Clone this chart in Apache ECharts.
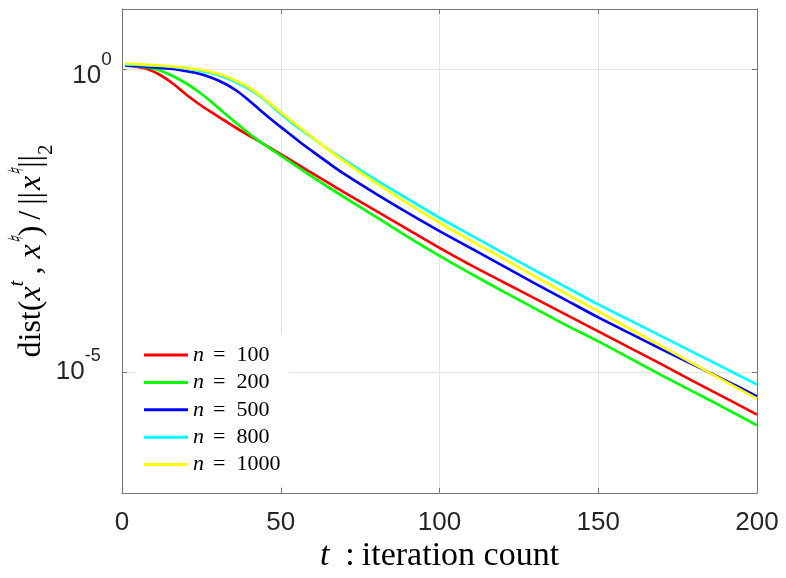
<!DOCTYPE html>
<html>
<head>
<meta charset="utf-8">
<script src="https://cdn.jsdelivr.net/npm/echarts@6/dist/echarts.min.js"></script>
<style>
  html, body { margin: 0; padding: 0; background: #ffffff; }
  #chart { width: 786px; height: 578px; }
</style>
</head>
<body>
<div id="chart"></div>
<script>
// Iteration index t at which the relative distance is sampled
const iterations = [1, 4, 8, 12, 16, 20, 24, 28, 32, 36, 40, 44, 48, 52, 56, 60, 65, 70,
  80, 90, 100, 110, 120, 130, 140, 150, 160, 170, 180, 190, 200];

// dist(x^t, x^natural) / ||x^natural||_2 for each problem size n
const errN100 = [1.164, 1.121, 1.019, 0.811, 0.587, 0.3937, 0.2743, 0.1986, 0.1464, 0.1080, 0.0812,
  0.0611, 0.0459, 0.0345, 0.02564, 0.01913, 0.01333, 0.00929, 0.00460, 0.002274, 0.001125,
  5.78e-4, 3.08e-4, 1.647e-4, 8.79e-5, 4.69e-5, 2.506e-5, 1.338e-5, 7.01e-6, 3.74e-6, 1.974e-6];
const errN200 = [1.164, 1.142, 1.079, 0.963, 0.781, 0.598, 0.433, 0.296, 0.195, 0.1306, 0.0876,
  0.0611, 0.0442, 0.0320, 0.02314, 0.01675, 0.01132, 0.00774, 0.003657, 0.001709, 8.30e-4,
  4.18e-4, 2.150e-4, 1.126e-4, 5.90e-5, 3.21e-5, 1.680e-5, 8.80e-6, 4.70e-6, 2.508e-6, 1.314e-6];
const errN500 = [1.164, 1.142, 1.108, 1.059, 1.019, 0.944, 0.859, 0.738, 0.598, 0.4498, 0.3074,
  0.2024, 0.1357, 0.0928, 0.0634, 0.0442, 0.02853, 0.01877, 0.00877, 0.004258, 0.002131,
  0.001103, 5.67e-4, 2.914e-4, 1.526e-4, 7.99e-5, 4.35e-5, 2.367e-5, 1.312e-5, 7.28e-6, 3.96e-6];
const errN800 = [1.219, 1.200, 1.173, 1.142, 1.100, 1.039, 0.963, 0.875, 0.752, 0.610, 0.476,
  0.3446, 0.2268, 0.1521, 0.1040, 0.0738, 0.0477, 0.0320, 0.01494, 0.00725, 0.00355,
  0.001810, 9.30e-4, 4.78e-4, 2.503e-4, 1.311e-4, 7.13e-5, 3.88e-5, 2.111e-5, 1.149e-5, 6.18e-6];
const errN1000 = [1.256, 1.233, 1.196, 1.164, 1.121, 1.067, 1.000, 0.909, 0.796, 0.646, 0.504,
  0.3580, 0.2402, 0.161, 0.1101, 0.0752, 0.0471, 0.0302, 0.01333, 0.00611, 0.002934,
  0.001468, 7.54e-4, 3.80e-4, 1.955e-4, 1.005e-4, 5.16e-5, 2.653e-5, 1.363e-5, 7.01e-6, 3.63e-6];

const seriesNames = ['n = 100', 'n = 200', 'n = 500', 'n = 800', 'n = 1000'];
const seriesValues = [errN100, errN200, errN500, errN800, errN1000];
const seriesColors = ['#ff0000', '#00ff00', '#0000ff', '#00ffff', '#ffff00'];

// Axis ranges and labelled ticks
const xMin = 0, xMax = 200, xStep = 50;
const yMin = 1e-7, yMax = 1e1;
const yTickValues = [1e-5, 1];

const SANS = 'Liberation Sans, Arial, Helvetica, sans-serif';
const SERIF = 'Liberation Serif, Times New Roman, serif';
const AXIS_GREY = '#767676';
const TEXT_DARK = '#262626';
const GRID_GREY = '#e4e4e4';

const chart = echarts.init(document.getElementById('chart'), null, { renderer: 'canvas' });

// "10" with the decade exponent raised as a superscript
function decadeLabel(value) {
  const p = Math.round(Math.log10(value));
  if (p === 0) return '{b0|10}{s0|' + p + '}{pad0| }';
  return '{b|10}{s|' + p + '}{pad| }{gap| }';
}

const lineSeries = seriesNames.map((name, k) => ({
  name: name,
  type: 'line',
  xAxisIndex: 0,
  yAxisIndex: 0,
  data: iterations.map((t, i) => [t, seriesValues[k][i]]),
  showSymbol: false,
  symbol: 'none',
  smooth: 0.35,
  lineStyle: { color: seriesColors[k], width: 2.7 },
  itemStyle: { color: seriesColors[k] },
  emphasis: { disabled: true },
  z: 2 + k
}));

chart.setOption({
  animation: false,
  backgroundColor: '#ffffff',
  grid: { left: 122, right: 29, top: 9, bottom: 85, containLabel: false, outerBoundsMode: 'none' },
  legend: {
    data: seriesNames,
    orient: 'vertical',
    left: 136,
    top: 334,
    padding: [10, 8, 10, 8],
    backgroundColor: '#ffffff',
    icon: 'rect',
    itemWidth: 44,
    itemHeight: 3,
    itemGap: 5.4,
    selectedMode: false,
    formatter: name => '{i|n}{g| }{r|=}{g2| }{r|' + name.slice(4) + '}',
    textStyle: {
      fontFamily: SERIF,
      fontSize: 22,
      lineHeight: 22,
      color: '#000000',
      rich: {
        i: { fontFamily: SERIF, fontStyle: 'italic', fontSize: 22, lineHeight: 22, color: '#000' },
        r: { fontFamily: SERIF, fontSize: 22, lineHeight: 22, color: '#000' },
        g: { fontSize: 1, width: 9 },
        g2: { fontSize: 1, width: 11 }
      }
    }
  },
  xAxis: [
    {
      type: 'value',
      position: 'bottom',
      min: xMin,
      max: xMax,
      interval: xStep,
      name: '{i|t}{g| }{r|:}{g2| }{r|iteration count}',
      nameLocation: 'middle',
      nameGap: 46,
      nameMoveOverlap: false,
      nameTextStyle: {
        rich: {
          i: { fontFamily: SERIF, fontStyle: 'italic', fontSize: 34, color: '#000' },
          r: { fontFamily: SERIF, fontSize: 34, color: '#000' },
          g: { fontSize: 1, width: 16 },
          g2: { fontSize: 1, width: 7 }
        }
      },
      axisLine: { show: true, onZero: false, lineStyle: { color: AXIS_GREY, width: 1 } },
      axisTick: { show: true, inside: true, length: 5, lineStyle: { color: AXIS_GREY } },
      axisLabel: { fontFamily: SANS, fontSize: 26, color: TEXT_DARK, margin: 17 },
      splitLine: { show: true, lineStyle: { color: GRID_GREY, width: 1 } }
    },
    {
      type: 'value',
      position: 'top',
      min: xMin,
      max: xMax,
      interval: xStep,
      axisLine: { show: true, onZero: false, lineStyle: { color: AXIS_GREY, width: 1 } },
      axisTick: { show: true, inside: true, length: 5, lineStyle: { color: AXIS_GREY } },
      axisLabel: { show: false },
      splitLine: { show: false }
    }
  ],
  yAxis: [
    {
      type: 'log',
      logBase: 10,
      position: 'left',
      min: yMin,
      max: yMax,
      name: '{r|dist(}{i|x}{sup|t}{g| }{r|,}{g2| }{i|x}{sup|♮}{r|)}{g3| }{r|/}{g3| }{r|||}{g4| }{i|x}{sup|♮}{r|||}{sub|2}',
      nameLocation: 'middle',
      nameGap: 65,
      nameRotate: 90,
      nameMoveOverlap: false,
      nameTextStyle: {
        rich: {
          r: { fontFamily: SERIF, fontSize: 32, lineHeight: 50, verticalAlign: 'middle', color: '#000' },
          i: { fontFamily: SERIF, fontStyle: 'italic', fontSize: 32, lineHeight: 50, verticalAlign: 'middle', color: '#000' },
          sup: { fontFamily: SERIF, fontStyle: 'italic', fontSize: 21, lineHeight: 21, verticalAlign: 'top', color: '#000' },
          sub: { fontFamily: SERIF, fontSize: 21, lineHeight: 36, verticalAlign: 'bottom', color: '#000' },
          g: { fontSize: 1, width: 6, lineHeight: 50 },
          g2: { fontSize: 1, width: 8, lineHeight: 50 },
          g3: { fontSize: 1, width: 6, lineHeight: 50 },
          g4: { fontSize: 1, width: 2, lineHeight: 50 }
        }
      },
      axisLine: { show: true, onZero: false, lineStyle: { color: AXIS_GREY, width: 1 } },
      axisTick: { show: true, inside: true, length: 5, customValues: yTickValues, lineStyle: { color: AXIS_GREY } },
      axisLabel: {
        customValues: yTickValues,
        margin: 10,
        formatter: decadeLabel,
        rich: {
          b0: { fontFamily: SANS, fontSize: 26, lineHeight: 26, verticalAlign: 'bottom', color: TEXT_DARK },
          s0: { fontFamily: SANS, fontSize: 19, lineHeight: 27, verticalAlign: 'top', color: TEXT_DARK },
          pad0: { fontSize: 1, lineHeight: 38 },
          b: { fontFamily: SANS, fontSize: 26, lineHeight: 26, verticalAlign: 'middle', color: TEXT_DARK },
          s: { fontFamily: SANS, fontSize: 18, lineHeight: 18, verticalAlign: 'top', color: TEXT_DARK },
          pad: { fontSize: 1, lineHeight: 50 },
          gap: { fontSize: 1, width: 11 }
        }
      },
      splitLine: { show: true, lineStyle: { color: GRID_GREY, width: 1 } }
    },
    {
      type: 'log',
      logBase: 10,
      position: 'right',
      min: yMin,
      max: yMax,
      axisLine: { show: true, onZero: false, lineStyle: { color: AXIS_GREY, width: 1 } },
      axisTick: { show: true, inside: true, length: 5, customValues: yTickValues, lineStyle: { color: AXIS_GREY } },
      axisLabel: { show: false },
      splitLine: { show: false }
    }
  ],
  series: lineSeries
});
</script>
</body>
</html>
